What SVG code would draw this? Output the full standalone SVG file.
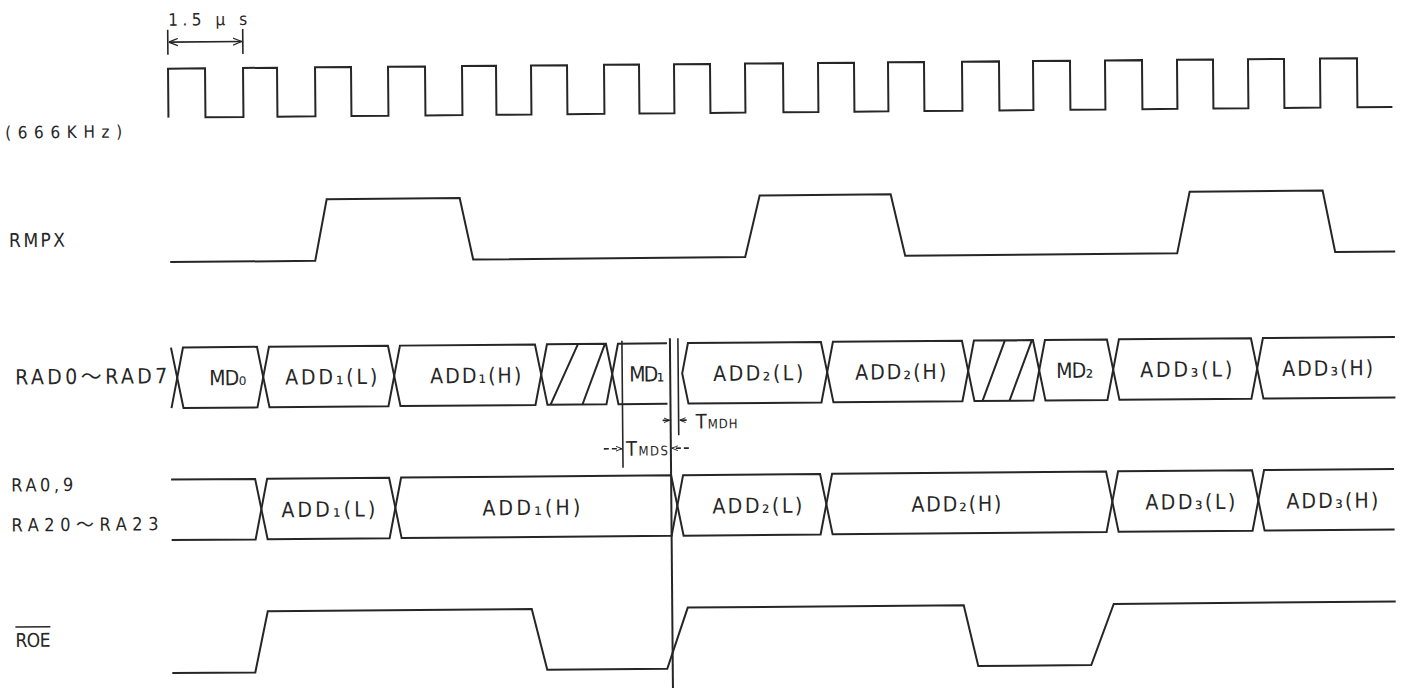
<svg xmlns="http://www.w3.org/2000/svg" width="1405" height="688" viewBox="0 0 1405 688">
<style>
.s{fill:none;stroke:#262626;stroke-width:2;stroke-linejoin:miter}
.th{fill:none;stroke:#262626;stroke-width:1.6}
.t{font-family:"DejaVu Sans","Noto Sans CJK JP",sans-serif;font-stretch:condensed;fill:#262626}
.b{font-size:21px}
.m{font-size:18px}
</style>
<defs>
<marker id="ah" viewBox="0 0 10 10" refX="10" refY="5" markerWidth="9" markerHeight="9" orient="auto-start-reverse" markerUnits="userSpaceOnUse"><path d="M0,1 L10,5 L0,9" fill="none" stroke="#262626" stroke-width="1.4"/></marker>
<marker id="as" viewBox="0 0 10 10" refX="10" refY="5" markerWidth="6" markerHeight="6" orient="auto-start-reverse" markerUnits="userSpaceOnUse"><path d="M0,1 L10,5 L0,9" fill="none" stroke="#262626" stroke-width="1.6"/></marker>
</defs>
<rect width="1405" height="688" fill="#ffffff"/>
<g transform="rotate(-0.5 700 350)">
<g id="labels">
<text class="t" style="font-size:17px" x="171" y="21" textLength="79" lengthAdjust="spacing">1.5 μ s</text>
<text class="t" style="font-size:17px" x="7" y="132.5" textLength="117" lengthAdjust="spacing">(666KHz)</text>
<text class="t" style="font-size:19px" x="10" y="241" textLength="56" lengthAdjust="spacing">RMPX</text>
<text class="t b" x="15" y="378.5" textLength="152" lengthAdjust="spacing">RAD0～RAD7</text>
<text class="t m" x="10" y="485.5" textLength="62" lengthAdjust="spacing">RA0,9</text>
<text class="t m" x="10" y="525.5" textLength="147" lengthAdjust="spacing">RA20～RA23</text>
<text class="t" style="font-size:19px" x="13" y="641" textLength="35" lengthAdjust="spacing">ROE</text>
<path class="th" d="M13,621 H48"/>
</g>
<g id="clk">
<path class="s" d="M170.5,113 V64 H207.5 V113 H245.5 V64 H279.5 V113 H317.5 V64 H353.5 V113 H390.5 V64 H427.5 V113 H464.5 V64 H498.5 V113 H533.5 V64 H569.5 V113 H606.5 V64 H641.5 V113 H676.5 V64 H712.5 V113 H747.5 V64 H785.5 V113 H820.5 V64 H856.5 V113 H890.5 V64 H926.5 V113 H964.5 V64 H1001.5 V113 H1035.5 V64 H1072.5 V113 H1107.5 V64 H1144.5 V113 H1179.5 V64 H1215.5 V113 H1250.5 V64 H1286.5 V113 H1322.5 V64 H1359.5 V113 H1394.5"/>
</g>
<g id="rmpx">
<path class="s" d="M171,257.5 H316 L328,196 H461 L474,257.5 H746 L761,196 H892 L906,257.5 H1178 L1191,196 H1324 L1336,257.5 H1396"/>
</g>
<g id="rad">
<path class="s" d="M171,343 L177,373.25 L171,403.5"/>
<g id="rad-md0"><path class="s" d="M177,373.25 L183,343 H257 L263,373.25 L257,403.5 H183 Z"/><text class="t b" x="209" y="381" textLength="37" lengthAdjust="spacing">MD₀</text></g>
<g id="rad-add1l"><path class="s" d="M263,373.25 L269,343 H388 L394,373.25 L388,403.5 H269 Z"/><text class="t b" x="285" y="381" textLength="92" lengthAdjust="spacing">ADD₁(L)</text></g>
<g id="rad-add1h"><path class="s" d="M394,373.25 L400,343 H535 L541,373.25 L535,403.5 H400 Z"/><text class="t b" x="430" y="381" textLength="91" lengthAdjust="spacing">ADD₁(H)</text></g>
<g id="rad-x1"><path class="s" d="M541,373.25 L547,343 H606 L612,373.25 L606,403.5 H547 Z M550,403.5 L578,343 M582,403.5 L605,343"/></g>
<g id="rad-md1"><path class="s" d="M667,343 H618 L612,373.25 L618,403.5 H667"/><text class="t b" x="629" y="381" textLength="35" lengthAdjust="spacing">MD₁</text></g>
<g id="rad-add2l"><path class="s" d="M682,373.25 L688,343 H821 L827,373.25 L821,403.5 H688 Z"/><text class="t b" x="713" y="381" textLength="90" lengthAdjust="spacing">ADD₂(L)</text></g>
<g id="rad-add2h"><path class="s" d="M827,373.25 L833,343 H962 L968,373.25 L962,403.5 H833 Z"/><text class="t b" x="855" y="381" textLength="91" lengthAdjust="spacing">ADD₂(H)</text></g>
<g id="rad-x2"><path class="s" d="M968,373.25 L974,343 H1033 L1039,373.25 L1033,403.5 H974 Z M982,403.5 L1005,343 M1009,403.5 L1032,343"/></g>
<g id="rad-md2"><path class="s" d="M1039,373.25 L1045,343 H1107 L1113,373.25 L1107,403.5 H1045 Z"/><text class="t b" x="1056" y="381" textLength="37" lengthAdjust="spacing">MD₂</text></g>
<g id="rad-add3l"><path class="s" d="M1113,373.25 L1119,343 H1251 L1257,373.25 L1251,403.5 H1119 Z"/><text class="t b" x="1140" y="381" textLength="92" lengthAdjust="spacing">ADD₃(L)</text></g>
<g id="rad-add3h"><path class="s" d="M1395,343 H1263 L1257,373.25 L1263,403.5 H1395"/><text class="t b" x="1282" y="381" textLength="91" lengthAdjust="spacing">ADD₃(H)</text></g>
</g>
<g id="ra">
<path class="s" d="M170,475 H254 L260,505.25 L254,535.5 H170"/>
<g id="ra-add1l"><path class="s" d="M260,505.25 L266,475 H388 L394,505.25 L388,535.5 H266 Z"/><text class="t b" x="280" y="513.5" textLength="94" lengthAdjust="spacing">ADD₁(L)</text></g>
<g id="ra-add1h"><path class="s" d="M394,505.25 L400,475 H670 L676,505.25 L670,535.5 H400 Z"/><text class="t b" x="481" y="513.5" textLength="98" lengthAdjust="spacing">ADD₁(H)</text></g>
<g id="ra-add2l"><path class="s" d="M676,505.25 L682,475 H819 L825,505.25 L819,535.5 H682 Z"/><text class="t b" x="711" y="513.5" textLength="90" lengthAdjust="spacing">ADD₂(L)</text></g>
<g id="ra-add2h"><path class="s" d="M825,505.25 L831,475 H1105 L1111,505.25 L1105,535.5 H831 Z"/><text class="t b" x="910" y="513.5" textLength="90" lengthAdjust="spacing">ADD₂(H)</text></g>
<g id="ra-add3l"><path class="s" d="M1111,505.25 L1117,475 H1251 L1257,505.25 L1251,535.5 H1117 Z"/><text class="t b" x="1144" y="513.5" textLength="90" lengthAdjust="spacing">ADD₃(L)</text></g>
<g id="ra-add3h"><path class="s" d="M1393,475 H1263 L1257,505.25 L1263,535.5 H1393"/><text class="t b" x="1285" y="513.5" textLength="92" lengthAdjust="spacing">ADD₃(H)</text></g>
</g>
<g id="roe">
<path class="s" d="M169.5,668.5 H252.5 L265.5,607.5 H529.5 L544.5,668.5 H664.5 L685.5,607.5 H961.5 L975.5,668.5 H1088.5 L1111.5,607.5 H1393.5"/>
</g>
<g id="connectors">
<path class="th" d="M170.5,25 V50 M245.5,25 V50"/>
<path class="th" d="M171.5,37.5 H244.5" marker-start="url(#ah)" marker-end="url(#ah)"/>
<path class="s" d="M670,338 V700"/>
<path class="th" d="M622,340 V467 M678,338 V435"/>
<path class="th" d="M662,420 H669" marker-end="url(#as)"/>
<path class="th" d="M686,420 H679" marker-end="url(#as)"/>
<path class="th" d="M603,448 H621" stroke-dasharray="5 3" marker-end="url(#as)"/>
<path class="th" d="M688,448 H671" stroke-dasharray="5 3" marker-end="url(#as)"/>
<text class="t" style="font-size:20px" x="695" y="428.5" textLength="42" lengthAdjust="spacing">T<tspan style="font-size:13px">MDH</tspan></text>
<text class="t" style="font-size:20px" x="625" y="455" textLength="42" lengthAdjust="spacing">T<tspan style="font-size:13px">MDS</tspan></text>
</g>
</g>
</svg>
